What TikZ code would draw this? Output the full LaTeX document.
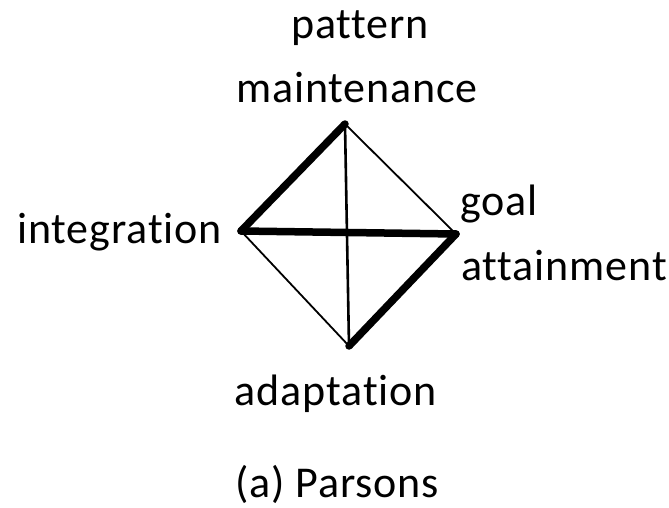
\documentclass[tikz,border=0pt]{standalone}
\usepackage{fontspec}
\setmainfont[Ligatures=NoCommon,LetterSpace=2]{Carlito}
\usepackage{tikz}

\begin{document}
\begin{tikzpicture}[x=1pt,y=-1pt,
    lbl/.style={inner sep=0pt,font=\fontsize{44}{50}\selectfont},
    heavy/.style={line width=7.5pt,line cap=round},
    light/.style={line width=1.8pt},
    mid/.style={line width=2.6pt}]
    \useasboundingbox (0,0) rectangle (669,508);
    \coordinate (pm) at (345,124);
    \coordinate (in) at (241,231);
    \coordinate (ga) at (456,234);
    \coordinate (ad) at (349,346);
    \draw[light] (pm)--(ga); \draw[light] (in)--(ad);
    \draw[mid] (pm)--(ad);
    \draw[heavy] (pm)--(in); \draw[heavy] (in)--(ga); \draw[heavy] (ga)--(ad);
    \node[lbl,anchor=base] (pat) at (360,39) {pattern};
    \node[lbl,anchor=base] (mnt) at (357,103) {maintenance};
    \node[lbl,anchor=base west] (int) at (17,243) {integration};
    \node[lbl,anchor=base west] (goal) at (460,215) {goal};
    \node[lbl,anchor=base west] (att) at (461,280) {attainment};
    \node[lbl,anchor=base] (adp) at (336,405) {adaptation};
    \node[lbl,anchor=base] (cap) at (337,497) {(a) Parsons};
  \end{tikzpicture}
\end{document}
